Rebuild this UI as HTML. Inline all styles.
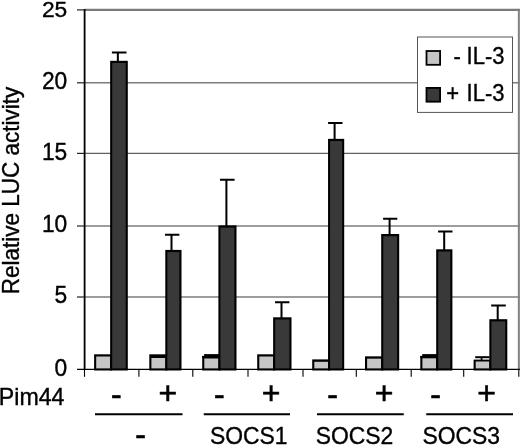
<!DOCTYPE html>
<html lang="en"><head><meta charset="utf-8"><title>Relative LUC activity</title>
<style>html,body{margin:0;padding:0;background:#fff}svg{display:block}</style></head>
<body>
<svg width="520" height="445" viewBox="0 0 520 445" font-family="'Liberation Sans', Arial, sans-serif" font-size="22" fill="#000">
<rect width="520" height="445" fill="#fff"/>
<line x1="84.5" x2="520" y1="297.00" y2="297.00" stroke="#7c7c7c" stroke-width="1.5"/>
<line x1="84.5" x2="520" y1="226.00" y2="226.00" stroke="#7c7c7c" stroke-width="1.5"/>
<line x1="84.5" x2="520" y1="153.40" y2="153.40" stroke="#606060" stroke-width="1.15"/>
<line x1="84.5" x2="520" y1="82.80" y2="82.80" stroke="#7c7c7c" stroke-width="1.5"/>
<line x1="84.5" x2="520" y1="9.9" y2="9.9" stroke="#7a7a7a" stroke-width="2.2"/>
<line x1="518.85" x2="518.85" y1="9.9" y2="369.4" stroke="#808080" stroke-width="2"/>
<line x1="84.6" x2="84.6" y1="8.9" y2="370.0" stroke="#000" stroke-width="1.8"/>
<line x1="77" x2="520" y1="369.4" y2="369.4" stroke="#000" stroke-width="1.2"/>
<line x1="77" x2="84.5" y1="297.00" y2="297.00" stroke="#222" stroke-width="1.2"/>
<line x1="77" x2="84.5" y1="226.00" y2="226.00" stroke="#222" stroke-width="1.2"/>
<line x1="77" x2="84.5" y1="153.40" y2="153.40" stroke="#222" stroke-width="1.2"/>
<line x1="77" x2="84.5" y1="82.80" y2="82.80" stroke="#222" stroke-width="1.2"/>
<line x1="77" x2="84.5" y1="9.90" y2="9.90" stroke="#222" stroke-width="1.2"/>
<line x1="84.50" x2="84.50" y1="369.4" y2="376.79999999999995" stroke="#000" stroke-width="1.1"/>
<line x1="138.90" x2="138.90" y1="369.4" y2="376.79999999999995" stroke="#000" stroke-width="1.1"/>
<line x1="192.80" x2="192.80" y1="369.4" y2="376.79999999999995" stroke="#000" stroke-width="1.1"/>
<line x1="248.00" x2="248.00" y1="369.4" y2="376.79999999999995" stroke="#000" stroke-width="1.1"/>
<line x1="303.00" x2="303.00" y1="369.4" y2="376.79999999999995" stroke="#000" stroke-width="1.1"/>
<line x1="356.30" x2="356.30" y1="369.4" y2="376.79999999999995" stroke="#000" stroke-width="1.1"/>
<line x1="411.20" x2="411.20" y1="369.4" y2="376.79999999999995" stroke="#000" stroke-width="1.1"/>
<line x1="463.70" x2="463.70" y1="369.4" y2="376.79999999999995" stroke="#000" stroke-width="1.1"/>
<line x1="518.80" x2="518.80" y1="369.4" y2="376.79999999999995" stroke="#000" stroke-width="1.1"/>
<path d="M117.85 61.80V52.50M111.90 52.50H126.50" stroke="#000" stroke-width="2" fill="none"/>
<rect x="94.10" y="354.30" width="18.05" height="16.20" fill="#000"/>
<rect x="96.20" y="356.50" width="13.95" height="11.90" fill="#c6c6c6"/>
<rect x="110.15" y="60.80" width="17.65" height="309.70" fill="#000"/>
<rect x="112.20" y="63.00" width="13.50" height="305.40" fill="#393939"/>
<path d="M171.50 250.90V234.80M165.00 234.80H179.40" stroke="#000" stroke-width="2" fill="none"/>
<rect x="149.30" y="354.30" width="18.00" height="16.20" fill="#000"/>
<rect x="151.40" y="358.00" width="13.90" height="10.40" fill="#c6c6c6"/>
<rect x="165.30" y="249.90" width="16.20" height="120.60" fill="#000"/>
<rect x="167.35" y="252.10" width="12.05" height="116.30" fill="#393939"/>
<path d="M226.40 226.40V179.85M220.00 179.85H234.60" stroke="#000" stroke-width="2" fill="none"/>
<rect x="202.20" y="356.00" width="18.20" height="14.50" fill="#000"/>
<rect x="204.30" y="358.50" width="14.10" height="9.90" fill="#c6c6c6"/>
<rect x="218.40" y="225.40" width="18.10" height="145.10" fill="#000"/>
<rect x="220.45" y="227.60" width="13.95" height="140.80" fill="#393939"/>
<path d="M281.50 318.30V302.30M275.00 302.30H289.40" stroke="#000" stroke-width="2" fill="none"/>
<rect x="257.20" y="354.30" width="17.95" height="16.20" fill="#000"/>
<rect x="259.30" y="356.50" width="13.85" height="11.90" fill="#c6c6c6"/>
<rect x="273.15" y="317.30" width="18.35" height="53.20" fill="#000"/>
<rect x="275.20" y="319.50" width="14.20" height="48.90" fill="#393939"/>
<path d="M334.60 139.85V123.10M328.10 123.10H342.50" stroke="#000" stroke-width="2" fill="none"/>
<rect x="312.20" y="359.40" width="17.85" height="11.10" fill="#000"/>
<rect x="314.30" y="361.80" width="13.75" height="6.60" fill="#c6c6c6"/>
<rect x="328.05" y="138.85" width="16.15" height="231.65" fill="#000"/>
<rect x="330.10" y="141.05" width="12.00" height="227.35" fill="#393939"/>
<path d="M389.60 235.00V218.85M383.10 218.85H397.30" stroke="#000" stroke-width="2" fill="none"/>
<rect x="365.00" y="356.35" width="18.20" height="14.15" fill="#000"/>
<rect x="367.10" y="358.65" width="14.10" height="9.75" fill="#c6c6c6"/>
<rect x="381.20" y="234.00" width="18.00" height="136.50" fill="#000"/>
<rect x="383.25" y="236.20" width="13.85" height="132.20" fill="#393939"/>
<path d="M444.20 250.30V231.60M438.10 231.60H452.50" stroke="#000" stroke-width="2" fill="none"/>
<rect x="420.30" y="356.00" width="17.90" height="14.50" fill="#000"/>
<rect x="422.40" y="358.30" width="13.80" height="10.10" fill="#c6c6c6"/>
<rect x="436.20" y="249.30" width="16.20" height="121.20" fill="#000"/>
<rect x="438.25" y="251.50" width="12.05" height="116.90" fill="#393939"/>
<path d="M497.70 320.20V305.40M491.15 305.40H505.80" stroke="#000" stroke-width="2" fill="none"/>
<rect x="473.60" y="359.60" width="17.75" height="10.90" fill="#000"/>
<rect x="475.70" y="361.50" width="13.65" height="6.90" fill="#c6c6c6"/>
<rect x="489.35" y="319.20" width="17.95" height="51.30" fill="#000"/>
<rect x="491.40" y="321.40" width="13.80" height="47.00" fill="#393939"/>
<rect x="202.00" y="353.00" width="2.10" height="2.90" fill="#fff"/>
<rect x="420.00" y="353.00" width="2.20" height="2.90" fill="#fff"/>
<rect x="202.20" y="355.90" width="2.00" height="2.10" fill="#000"/>
<rect x="420.30" y="355.90" width="2.10" height="2.10" fill="#000"/>
<rect x="204.10" y="354.10" width="15.30" height="2.10" fill="#000"/>
<rect x="422.20" y="354.10" width="15.00" height="2.10" fill="#000"/>
<rect x="475.20" y="356.20" width="14.40" height="2.00" fill="#000"/>
<rect x="480.70" y="357.50" width="1.70" height="2.50" fill="#000"/>
<text transform="translate(67.30 375.90) scale(1 1.045)" font-size="22.8" text-anchor="end" stroke="#000" stroke-width="0.35">0</text>
<text transform="translate(67.30 303.20) scale(1 1.045)" font-size="22.8" text-anchor="end" stroke="#000" stroke-width="0.35">5</text>
<text transform="translate(67.30 231.50) scale(1 1.045)" font-size="22.8" text-anchor="end" stroke="#000" stroke-width="0.35">10</text>
<text transform="translate(67.30 159.80) scale(1 1.045)" font-size="22.8" text-anchor="end" stroke="#000" stroke-width="0.35">15</text>
<text transform="translate(67.30 89.00) scale(1 1.045)" font-size="22.8" text-anchor="end" stroke="#000" stroke-width="0.35">20</text>
<text transform="translate(67.30 17.20) scale(1 1.0)" font-size="22.8" text-anchor="end" stroke="#000" stroke-width="0.35">25</text>
<text transform="translate(19.00 294.20) rotate(-90) scale(1 1.04)" font-size="22.5" text-anchor="start" stroke="#000" stroke-width="0.35">Relative LUC activity</text>
<rect x="417.5" y="37" width="95" height="75.4" fill="#fff" stroke="#555" stroke-width="1"/>
<rect x="426.5" y="51" width="13.6" height="13.8" fill="#c6c6c6" stroke="#000" stroke-width="1.8"/>
<rect x="426.5" y="87.9" width="13.6" height="13.8" fill="#393939" stroke="#000" stroke-width="1.8"/>
<text transform="translate(453.40 63.70) scale(1 1.06)" font-size="22" text-anchor="start" stroke="#000" stroke-width="0.35">-</text>
<text transform="translate(466.60 63.70) scale(1 1.06)" font-size="22" text-anchor="start" stroke="#000" stroke-width="0.35">IL-3</text>
<text transform="translate(446.30 100.80) scale(1 1.06)" font-size="22" text-anchor="start" stroke="#000" stroke-width="0.35">+</text>
<text transform="translate(466.60 100.80) scale(1 1.06)" font-size="22" text-anchor="start" stroke="#000" stroke-width="0.35">IL-3</text>
<text transform="translate(-1.20 405.30) scale(1 1.06)" font-size="23.2" text-anchor="start" stroke="#000" stroke-width="0.35">Pim44</text>
<text transform="translate(111.00 405.20) scale(1 1.0)" font-size="32" text-anchor="start" stroke="#000" stroke-width="0.7">-</text>
<text transform="translate(214.00 405.20) scale(1 1.0)" font-size="32" text-anchor="start" stroke="#000" stroke-width="0.7">-</text>
<text transform="translate(327.25 405.20) scale(1 1.0)" font-size="32" text-anchor="start" stroke="#000" stroke-width="0.7">-</text>
<text transform="translate(430.25 405.20) scale(1 1.0)" font-size="32" text-anchor="start" stroke="#000" stroke-width="0.7">-</text>
<text transform="translate(158.60 404.30) scale(1 1.0)" font-size="32" text-anchor="start" stroke="#000" stroke-width="0.6">+</text>
<text transform="translate(261.85 404.30) scale(1 1.0)" font-size="32" text-anchor="start" stroke="#000" stroke-width="0.6">+</text>
<text transform="translate(374.85 404.30) scale(1 1.0)" font-size="32" text-anchor="start" stroke="#000" stroke-width="0.6">+</text>
<text transform="translate(477.35 404.30) scale(1 1.0)" font-size="32" text-anchor="start" stroke="#000" stroke-width="0.6">+</text>
<line x1="95" x2="182.5" y1="414.2" y2="414.2" stroke="#000" stroke-width="2"/>
<line x1="203.75" x2="290" y1="414.2" y2="414.2" stroke="#000" stroke-width="2"/>
<line x1="317" x2="403.75" y1="414.2" y2="414.2" stroke="#000" stroke-width="2"/>
<line x1="426.25" x2="513" y1="414.2" y2="414.2" stroke="#000" stroke-width="2"/>
<text transform="translate(135.30 444.60) scale(1 1.0)" font-size="32" text-anchor="start" stroke="#000" stroke-width="0.7">-</text>
<text transform="translate(209.90 444.10) scale(1 1.05)" font-size="22.9" text-anchor="start" stroke="#000" stroke-width="0.35">SOCS1</text>
<text transform="translate(315.70 444.10) scale(1 1.05)" font-size="22.9" text-anchor="start" stroke="#000" stroke-width="0.35">SOCS2</text>
<text transform="translate(422.40 444.10) scale(1 1.05)" font-size="22.9" text-anchor="start" stroke="#000" stroke-width="0.35">SOCS3</text>
</svg>
</body></html>
